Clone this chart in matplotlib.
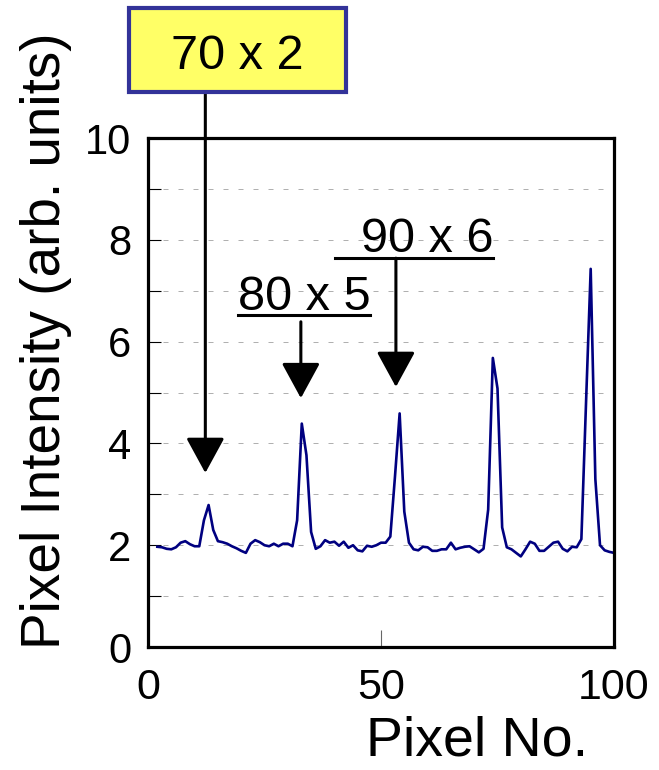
"""
plot.py — Perfil de intensidad por pixel con anotaciones de defectos
"""

import numpy as np
import matplotlib
matplotlib.use("Agg")
import matplotlib.pyplot as plt
from matplotlib.patches import Rectangle

plt.rcParams["font.family"] = ["Liberation Sans", "DejaVu Sans"]

# ─────────────────────────────────────────────────────────
#  Datos
# ─────────────────────────────────────────────────────────
pixel_no = np.arange(2, 101)
intensity = [
    1.97, 1.96, 1.93, 1.92, 1.96, 2.05, 2.08, 2.02, 1.98, 1.98,   # 2-11
    2.49, 2.79, 2.30, 2.08, 2.06, 2.03, 1.98, 1.94, 1.89, 1.85,   # 12-21
    2.03, 2.10, 2.06, 2.00, 1.98, 2.03, 1.98, 2.03, 2.03, 1.98,   # 22-31
    2.49, 4.39, 3.77, 2.26, 1.93, 1.98, 2.10, 2.05, 2.07, 1.99,   # 32-41
    2.07, 1.95, 2.00, 1.90, 1.88, 1.99, 1.97, 2.00, 2.05, 2.05,   # 42-51
    2.17, 3.35, 4.59, 2.66, 2.05, 1.92, 1.90, 1.97, 1.96, 1.89,   # 52-61
    1.89, 1.92, 1.92, 2.05, 1.92, 1.95, 1.97, 1.98, 1.92, 1.86,   # 62-71
    1.93, 2.70, 5.68, 5.08, 2.35, 1.96, 1.92, 1.85, 1.78, 1.92,   # 72-81
    2.07, 2.03, 1.89, 1.89, 1.97, 2.05, 2.07, 1.93, 1.88, 1.97,   # 82-91
    1.96, 2.12, 4.80, 7.43, 3.30, 2.00, 1.90, 1.87, 1.85,         # 92-100
]

x_ticks = [0, 50, 100]
y_ticks = [0, 2, 4, 6, 8, 10]
y_grid = [1, 2, 3, 4, 5, 6, 7, 8, 9]

labels = ["70 x 2", "80 x 5", "90 x 6"]

# ─────────────────────────────────────────────────────────
#  Figura
# ─────────────────────────────────────────────────────────
fig = plt.figure(figsize=(6.59, 7.70), dpi=100)
ax = fig.add_axes([0.2246, 0.1597, 0.7071, 0.6610])

ax.plot(pixel_no, intensity, color="#000080", linewidth=1.9)

ax.set_xlim(0, 100)
ax.set_ylim(0, 10)
ax.set_xticks(x_ticks)
ax.set_yticks(y_ticks)
ax.set_yticks(y_grid, minor=True)

for y in y_grid:
    ax.axhline(y, color="#b0b0b0", linewidth=0.72, linestyle=(0, (5, 10)), zorder=0)

ax.tick_params(axis="y", which="both", direction="in", length=9, width=0.8,
               labelsize=30, pad=12)
ax.tick_params(axis="x", direction="in", length=12, width=0.8, color="#666666",
               labelsize=31, pad=15)

for sp in ax.spines.values():
    sp.set_linewidth(2.3)

fig.text(477 / 659, 1 - 741 / 770, "Pixel No.", fontsize=40, ha="center", va="center")
fig.text(46 / 659, 1 - 341 / 770, "Pixel Intensity (arb. units)", fontsize=39.5,
         rotation=90, ha="center", va="center")

# ─────────────────────────────────────────────────────────
#  Anotaciones
# ─────────────────────────────────────────────────────────
arrow_kw = dict(arrowstyle="-|>,head_length=1.1,head_width=0.6",
                mutation_scale=20, color="black", linewidth=2.2,
                shrinkA=0, shrinkB=0)

# 70 x 2 (caja amarilla)
ax.add_patch(Rectangle((-4.1, 10.90), 46.6, 1.65, facecolor="#FFFF66",
                       edgecolor="#333399", linewidth=3, clip_on=False, zorder=5))
ax.text(19.1, 11.36, labels[0], fontsize=35, ha="center", va="baseline", zorder=6)
ax.annotate("", xy=(12.3, 3.42), xytext=(12.3, 10.86),
            arrowprops=arrow_kw, annotation_clip=False)

# 80 x 5
ax.text(33.5, 6.62, labels[1], fontsize=35, ha="center", va="baseline")
ax.plot([19.3, 47.6], [6.52, 6.52], color="black", linewidth=2.2, clip_on=False)
ax.annotate("", xy=(32.8, 4.89), xytext=(32.8, 6.39),
            arrowprops=arrow_kw, annotation_clip=False)

# 90 x 6
ax.text(59.9, 7.76, labels[2], fontsize=35, ha="center", va="baseline")
ax.plot([40.1, 74.0], [7.64, 7.64], color="black", linewidth=2.2, clip_on=False)
ax.annotate("", xy=(53.2, 5.11), xytext=(53.2, 7.64),
            arrowprops=arrow_kw, annotation_clip=False)

fig.savefig("out.png", dpi=100)
